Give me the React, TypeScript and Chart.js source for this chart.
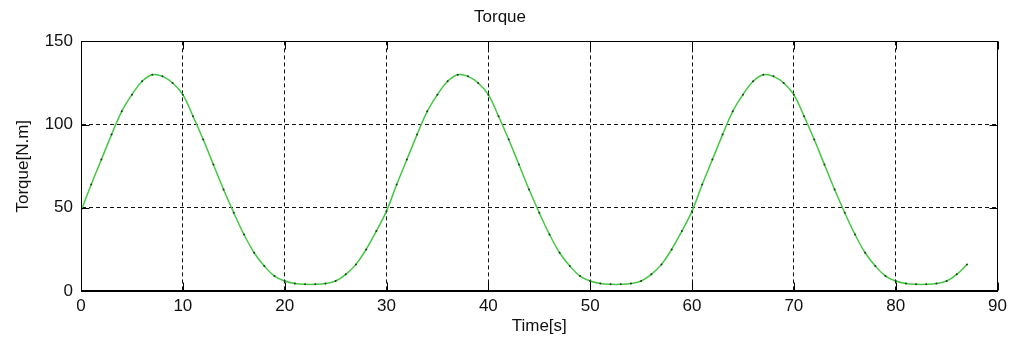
import React, { useEffect, useRef } from "react";
import { Chart, registerables } from "chart.js";

Chart.register(...registerables);

const TITLE = "Torque";
const X_LABEL = "Time[s]";
const Y_LABEL = "Torque[N.m]";

const TIME: number[] = [
  0, 1, 2, 3, 4, 5, 6, 7, 8, 9, 10, 11, 12, 13, 14, 15, 16, 17, 18, 19, 20, 21, 22, 23, 24, 25, 26, 27, 28, 29,
  30, 31, 32, 33, 34, 35, 36, 37, 38, 39, 40, 41, 42, 43, 44, 45, 46, 47, 48, 49, 50, 51, 52, 53, 54, 55, 56, 57, 58, 59,
  60, 61, 62, 63, 64, 65, 66, 67, 68, 69, 70, 71, 72, 73, 74, 75, 76, 77, 78, 79, 80, 81, 82, 83, 84, 85, 86, 87,
];

const TORQUE: number[] = [
  48, 64, 79, 94, 108, 118, 126, 130, 129, 125, 118, 105, 91, 76, 61, 47, 34, 23, 15, 9, 6, 4.5, 4, 4, 4.5, 6, 10, 16, 25, 36,
  48, 64, 79, 94, 108, 118, 126, 130, 129, 125, 118, 105, 91, 76, 61, 47, 34, 23, 15, 9, 6, 4.5, 4, 4, 4.5, 6, 10, 16, 25, 36,
  48, 64, 79, 94, 108, 118, 126, 130, 129, 125, 118, 105, 91, 76, 61, 47, 34, 23, 15, 9, 6, 4.5, 4, 4, 4.5, 6, 10, 16,
];

const X_MIN = 0;
const X_MAX = 90;
const X_STEP = 10;
const Y_MIN = 0;
const Y_MAX = 150;
const Y_STEP = 50;

const FONT = "'Liberation Sans', Arial, sans-serif";

const framePlugin = {
  id: "frameTicks",
  afterDraw(chart: any) {
    const { ctx, chartArea: a, scales } = chart;
    ctx.save();
    ctx.strokeStyle = "#000";
    ctx.lineWidth = 1;
    ctx.setLineDash([]);
    const L = Math.round(a.left) + 0.5;
    const R = Math.round(a.right) - 0.5;
    const T = Math.round(a.top) + 0.5;
    const B = Math.round(a.bottom) - 0.5;
    ctx.strokeRect(L, T, R - L, B - T);
    const len = 8;
    ctx.beginPath();
    scales.x.ticks.forEach((t: any) => {
      const x = Math.round(scales.x.getPixelForValue(t.value)) + 0.5;
      ctx.moveTo(x, B);
      ctx.lineTo(x, B - len);
      ctx.moveTo(x, T);
      ctx.lineTo(x, T + len);
    });
    scales.y.ticks.forEach((t: any) => {
      const y = Math.round(scales.y.getPixelForValue(t.value)) + 0.5;
      ctx.moveTo(L, y);
      ctx.lineTo(L + len, y);
      ctx.moveTo(R, y);
      ctx.lineTo(R - len, y);
    });
    ctx.stroke();
    ctx.restore();
  },
};

export default function App() {
  const ref = useRef<HTMLCanvasElement | null>(null);

  useEffect(() => {
    if (!ref.current) return;
    const data = TIME.map((t, i) => ({ x: t, y: TORQUE[i] }));
    const chart = new Chart(ref.current, {
      type: "line",
      data: {
        datasets: [
          {
            label: "Torque",
            data,
            borderColor: "#44c844",
            borderWidth: 1.5,
            pointRadius: 1,
            pointBackgroundColor: "#1c3f1c",
            pointBorderWidth: 0,
            tension: 0.4,
            fill: false,
          },
        ],
      },
      options: {
        responsive: false,
        animation: false,
        layout: { padding: { left: 0, right: 12, top: 0, bottom: 0 } },
        plugins: {
          legend: { display: false },
          tooltip: { enabled: false },
          title: {
            display: true,
            text: TITLE,
            color: "#111",
            font: { family: FONT, size: 17, weight: "normal" },
            padding: { top: 7, bottom: 14 },
          },
        },
        scales: {
          x: {
            type: "linear",
            min: X_MIN,
            max: X_MAX,
            afterFit(scale: any) {
              scale.height = 48;
            },
            ticks: {
              stepSize: X_STEP,
              color: "#111",
              padding: 5,
              maxRotation: 0,
              font: { family: FONT, size: 17 },
            },
            grid: {
              color: "#111",
              lineWidth: 1,
              drawTicks: false,
            },
            border: { display: true, color: "#000", dash: [4, 3] },
            title: {
              display: true,
              text: X_LABEL,
              color: "#111",
              font: { family: FONT, size: 17 },
              padding: { top: 0, bottom: 2 },
            },
          },
          y: {
            type: "linear",
            min: Y_MIN,
            max: Y_MAX,
            afterFit(scale: any) {
              scale.width = 81;
            },
            ticks: {
              stepSize: Y_STEP,
              color: "#111",
              padding: 8,
              font: { family: FONT, size: 17 },
            },
            grid: {
              color: "#111",
              lineWidth: 1,
              drawTicks: false,
            },
            border: { display: true, color: "#000", dash: [4, 3] },
            title: {
              display: true,
              text: Y_LABEL,
              color: "#111",
              font: { family: FONT, size: 17 },
              padding: { top: 13, bottom: 0 },
            },
          },
        },
      } as any,
      plugins: [framePlugin],
    });
    return () => chart.destroy();
  }, []);

  return (
    <div style={{ position: "absolute", left: 0, top: 0, width: 1012, height: 339, background: "#fff" }}>
      <canvas ref={ref} width={1012} height={339} style={{ display: "block" }} />
    </div>
  );
}
